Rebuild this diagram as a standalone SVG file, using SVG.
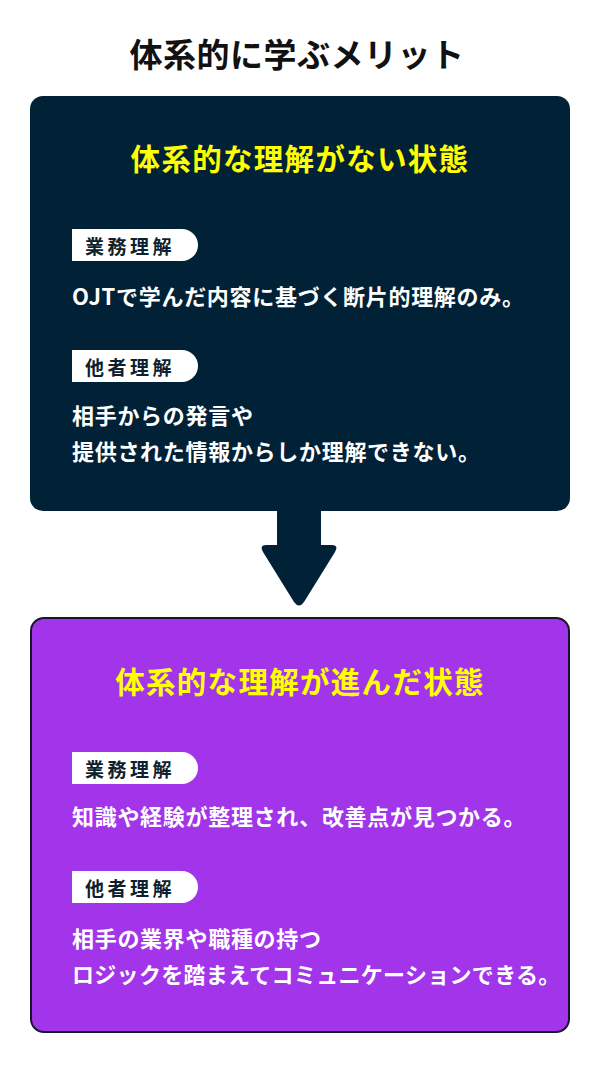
<svg xmlns="http://www.w3.org/2000/svg" width="600" height="1067" viewBox="0 0 600 1067">
<style>
text{font-family:"Noto Sans CJK JP","Noto Sans CJK SC",sans-serif;font-weight:700}
.title{font-size:33px;fill:#111;letter-spacing:0.5px}
.head{font-size:29.5px;fill:#ffff00;letter-spacing:1.3px}
.tag{fill:#ffffff}
.tagt{font-size:19px;fill:#0e1f2e;letter-spacing:3.5px}
.body{font-size:22px;fill:#ffffff;letter-spacing:0.7px}
.body.tight{letter-spacing:0.3px}
</style>
<defs>
<path id="tagshape" d="M72 0 H182 A16 16 0 0 1 182 32 H72 Z"/>
</defs>
<rect width="600" height="1067" fill="#ffffff"/>
<text class="title" x="297" y="67" text-anchor="middle">体系的に学ぶメリット</text>

<g id="connectors">
<path d="M277 509 H321 V545 H332 Q339 545 335 552 L304 602 Q299 609 294 602 L263 552 Q259 545 266 545 H277 Z" fill="#012136"/>
</g>

<g id="node-before">
<rect x="30" y="96" width="540" height="415" rx="13" fill="#012136"/>
<text class="head" x="300" y="170" text-anchor="middle">体系的な理解がない状態</text>
<use href="#tagshape" class="tag" transform="translate(0,229)"/>
<text class="tagt" x="85" y="254">業務理解</text>
<text class="body" x="72" y="305">OJTで学んだ内容に基づく断片的理解のみ。</text>
<use href="#tagshape" class="tag" transform="translate(0,350)"/>
<text class="tagt" x="85" y="375">他者理解</text>
<text class="body" x="72" y="424">相手からの発言や</text>
<text class="body" x="72" y="460">提供された情報からしか理解できない。</text>
</g>

<g id="node-after">
<rect x="31" y="618" width="538" height="414" rx="13" fill="#a234ea" stroke="#15172a" stroke-width="2"/>
<text class="head" x="300" y="693" text-anchor="middle">体系的な理解が進んだ状態</text>
<use href="#tagshape" class="tag" transform="translate(0,752)"/>
<text class="tagt" x="85" y="777">業務理解</text>
<text class="body" x="72" y="825">知識や経験が整理され、改善点が見つかる。</text>
<use href="#tagshape" class="tag" transform="translate(0,871)"/>
<text class="tagt" x="85" y="896">他者理解</text>
<text class="body" x="72" y="947">相手の業界や職種の持つ</text>
<text class="body tight" x="72" y="983">ロジックを踏まえてコミュニケーションできる。</text>
</g>
</svg>
